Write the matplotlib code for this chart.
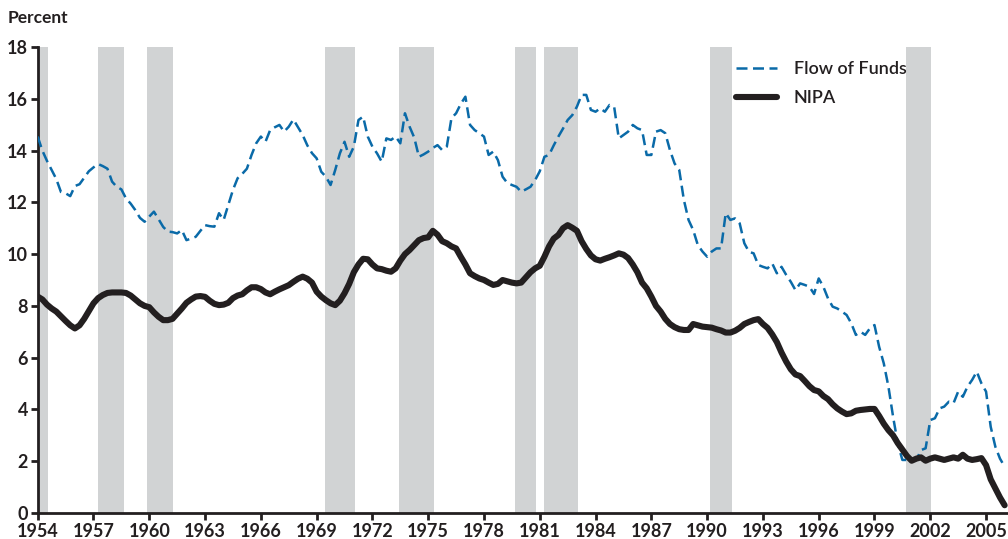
import numpy as np
import matplotlib
matplotlib.use("Agg")
import matplotlib.pyplot as plt

# quarterly values, 1954Q1 ... 2006Q1
nipa = [
    8.36, 8.25, 8.05, 7.90,   # 1954
    7.78, 7.60, 7.42, 7.25,   # 1955
    7.13, 7.25, 7.50, 7.80,   # 1956
    8.10, 8.30, 8.42, 8.50,   # 1957
    8.52, 8.52, 8.52, 8.50,   # 1958
    8.40, 8.25, 8.10, 8.00,   # 1959
    7.95, 7.75, 7.58, 7.45,   # 1960
    7.45, 7.50, 7.70, 7.90,   # 1961
    8.12, 8.25, 8.36, 8.38,   # 1962
    8.35, 8.20, 8.08, 8.03,   # 1963
    8.05, 8.12, 8.30, 8.40,   # 1964
    8.45, 8.60, 8.72, 8.72,   # 1965
    8.65, 8.52, 8.45, 8.55,   # 1966
    8.64, 8.72, 8.80, 8.93,   # 1967
    9.05, 9.13, 9.05, 8.90,   # 1968
    8.55, 8.36, 8.22, 8.10,   # 1969
    8.03, 8.20, 8.49, 8.85,   # 1970
    9.30, 9.60, 9.82, 9.80,   # 1971
    9.60, 9.45, 9.42, 9.36,   # 1972
    9.32, 9.45, 9.75, 10.00,  # 1973
    10.16, 10.35, 10.54, 10.62,  # 1974
    10.65, 10.90, 10.75, 10.50,  # 1975
    10.42, 10.30, 10.22, 9.90,   # 1976
    9.60, 9.26, 9.15, 9.06,   # 1977
    9.00, 8.90, 8.81, 8.85,   # 1978
    9.00, 8.95, 8.90, 8.87,   # 1979
    8.90, 9.10, 9.30, 9.45,   # 1980
    9.55, 9.90, 10.30, 10.60,  # 1981
    10.74, 11.00, 11.12, 11.02,  # 1982
    10.90, 10.50, 10.20, 9.95,   # 1983
    9.80, 9.75, 9.82, 9.88,   # 1984
    9.95, 10.03, 9.98, 9.85,  # 1985
    9.60, 9.30, 8.90, 8.68,   # 1986
    8.36, 8.00, 7.78, 7.50,   # 1987
    7.30, 7.18, 7.10, 7.07,   # 1988
    7.07, 7.30, 7.25, 7.20,   # 1989
    7.18, 7.16, 7.10, 7.05,   # 1990
    6.97, 6.97, 7.04, 7.15,   # 1991
    7.30, 7.38, 7.45, 7.49,   # 1992
    7.30, 7.15, 6.90, 6.60,   # 1993
    6.20, 5.85, 5.55, 5.35,   # 1994
    5.29, 5.10, 4.90, 4.75,   # 1995
    4.70, 4.52, 4.40, 4.20,   # 1996
    4.04, 3.92, 3.82, 3.85,   # 1997
    3.95, 3.98, 4.00, 4.02,   # 1998
    4.02, 3.75, 3.45, 3.20,   # 1999
    3.00, 2.70, 2.45, 2.20,   # 2000
    2.02, 2.10, 2.15, 2.02,   # 2001
    2.10, 2.15, 2.10, 2.05,   # 2002
    2.10, 2.15, 2.10, 2.25,   # 2003
    2.10, 2.05, 2.08, 2.12,   # 2004
    1.85, 1.30, 0.95, 0.60,   # 2005
    0.30,                     # 2006
]

flow_of_funds = [
    14.54, 14.00, 13.60, 13.25,  # 1954
    12.90, 12.40, 12.35, 12.24,  # 1955
    12.63, 12.70, 12.95, 13.20,  # 1956
    13.35, 13.48, 13.40, 13.30,  # 1957
    12.80, 12.60, 12.50, 12.15,  # 1958
    11.95, 11.70, 11.40, 11.25,  # 1959
    11.45, 11.64, 11.35, 11.05,  # 1960
    10.87, 10.85, 10.80, 10.93,  # 1961
    10.54, 10.60, 10.67, 10.90,  # 1962
    11.12, 11.08, 11.06, 11.58,  # 1963
    11.32, 11.90, 12.48, 12.93,  # 1964
    13.10, 13.30, 13.83, 14.28,  # 1965
    14.54, 14.34, 14.79, 14.90,  # 1966
    14.99, 14.73, 14.92, 15.20,  # 1967
    14.90, 14.60, 14.20, 13.90,  # 1968
    13.70, 13.18, 12.99, 12.67,  # 1969
    13.25, 13.89, 14.34, 13.76,  # 1970
    14.15, 15.18, 15.31, 14.54,  # 1971
    14.15, 13.89, 13.57, 14.47,  # 1972
    14.41, 14.54, 14.28, 15.44,  # 1973
    14.92, 14.50, 13.76, 13.85,  # 1974
    13.96, 14.10, 14.21, 14.02,  # 1975
    14.15, 15.25, 15.44, 15.80,  # 1976
    16.08, 14.99, 14.79, 14.67,  # 1977
    14.54, 13.83, 13.96, 13.63,  # 1978
    12.99, 12.75, 12.67, 12.60,  # 1979
    12.41, 12.50, 12.60, 12.86,  # 1980
    13.20, 13.76, 13.83, 14.20,  # 1981
    14.54, 14.85, 15.18, 15.37,  # 1982
    15.70, 16.15, 16.15, 15.57,  # 1983
    15.50, 15.63, 15.50, 15.76,  # 1984
    15.69, 14.47, 14.60, 14.73,  # 1985
    14.99, 14.86, 14.79, 13.83,  # 1986
    13.83, 14.73, 14.79, 14.67,  # 1987
    14.02, 13.50, 13.25, 12.09,  # 1988
    11.32, 10.93, 10.35, 10.10,  # 1989
    9.90, 10.10, 10.22, 10.22,   # 1990
    11.58, 11.32, 11.38, 11.19,  # 1991
    10.42, 10.09, 10.03, 9.58,   # 1992
    9.51, 9.45, 9.64, 9.26,      # 1993
    9.51, 9.20, 8.93, 8.61,      # 1994
    8.87, 8.81, 8.74, 8.46,      # 1995
    9.06, 8.74, 8.29, 7.97,      # 1996
    7.90, 7.78, 7.65, 7.33,      # 1997
    6.88, 7.00, 6.88, 7.13,      # 1998
    7.26, 6.42, 5.78, 4.88,      # 1999
    3.72, 2.69, 2.05, 2.05,      # 2000
    2.05, 2.05, 2.43, 2.50,      # 2001
    3.59, 3.66, 4.04, 4.11,      # 2002
    4.30, 4.24, 4.69, 4.49,      # 2003
    4.88, 5.14, 5.46, 5.01,      # 2004
    4.69, 3.33, 2.56, 2.10,      # 2005
    1.79,                        # 2006
]

# recession shading (start, end) in fractional years
recessions = [(1954.0, 1954.55), (1957.24, 1958.64), (1959.86, 1961.27),
              (1969.45, 1971.06), (1973.43, 1975.31), (1979.67, 1980.80),
              (1981.23, 1983.06), (1990.16, 1991.34), (2000.70, 2002.04)]

year_ticks = list(range(1954, 2006, 3))
pct_ticks = list(range(0, 19, 2))

t = 1954 + np.arange(len(nipa)) / 4.0

ink = "#231f20"
blue = "#0a6aa8"

fig = plt.figure(figsize=(10.08, 5.39), dpi=100)
ax = fig.add_axes([0.0374, 0.0482, 0.9626, 0.8646])

for a, b in recessions:
    ax.axvspan(a, b, color="#d1d3d4", lw=0, zorder=0)

ax.plot(t, flow_of_funds, color=blue, lw=1.8, dashes=(4.4, 2.2),
        label="Flow of Funds", zorder=3)
ax.plot(t, nipa, color=ink, lw=4.4, solid_capstyle="round",
        solid_joinstyle="round", label="NIPA", zorder=4)

ax.set_xlim(1954, 2006.18)
ax.set_ylim(0, 18)
ax.set_xticks(year_ticks)
ax.set_yticks(pct_ticks)

for s in ["top", "right"]:
    ax.spines[s].set_visible(False)
for s in ["left", "bottom"]:
    ax.spines[s].set_linewidth(2.0)
    ax.spines[s].set_color(ink)

ax.tick_params(direction="out", length=5, width=2, color=ink, labelcolor=ink,
               labelsize=13, pad=2)
for lbl in ax.get_xticklabels() + ax.get_yticklabels():
    lbl.set_family("Lato")
    lbl.set_fontweight("bold")

fig.text(0.008, 0.966, "Percent", ha="left", va="center", fontsize=12.5,
         family="Lato", fontweight="bold", color=ink)

leg = ax.legend(loc="upper left", bbox_to_anchor=(0.712, 0.985), frameon=False,
                handlelength=2.3, handletextpad=0.9, labelspacing=0.7,
                prop={"family": "Lato", "size": 13, "weight": "semibold"},
                borderaxespad=0)
for txt in leg.get_texts():
    txt.set_color(ink)

fig.savefig("out.png", dpi=100)
